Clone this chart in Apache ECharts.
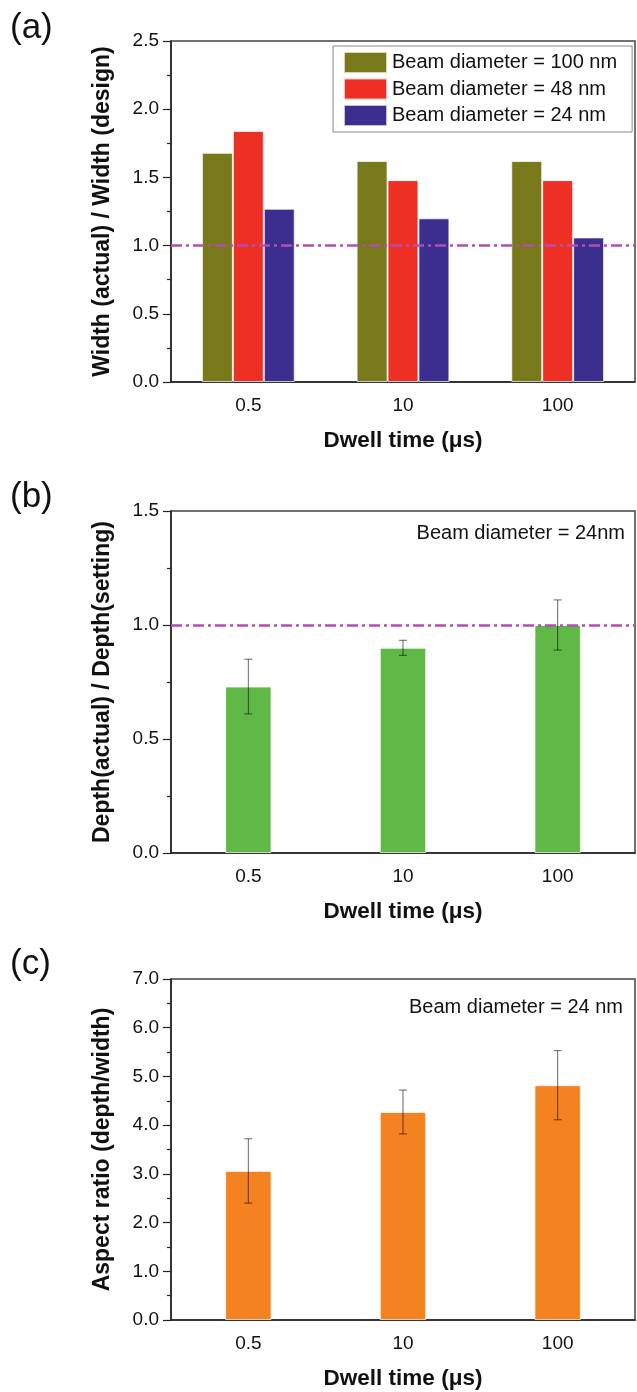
<!DOCTYPE html>
<html>
<head>
<meta charset="utf-8">
<script src="https://cdn.jsdelivr.net/npm/echarts@6/dist/echarts.min.js"></script>
<style>
  html, body { margin: 0; padding: 0; background: #fff; }
  #chart { width: 637px; height: 1392px; }
</style>
</head>
<body>
<div id="chart"></div>
<script>
// data
const categories = ['0.5', '10', '100']
const width100 = [1.68, 1.62, 1.62]
const width48 = [1.84, 1.48, 1.48]
const width24 = [1.27, 1.20, 1.06]
const depthRatio = [0.73, 0.90, 1.00]
const depthErr = [0.12, 0.033, 0.11]
const aspectRatio = [3.06, 4.27, 4.82]
const aspectErr = [0.66, 0.45, 0.71]
const seriesNames = ['Beam diameter = 100 nm', 'Beam diameter = 48 nm', 'Beam diameter = 24 nm']
const yRangeA = [0, 2.5, 0.5]
const yRangeB = [0, 1.5, 0.5]
const yRangeC = [0, 7, 1]
const refLine = 1.0

const FONT = 'Liberation Sans, Arial, sans-serif'
const grids = [
  { left: 171, top: 41, width: 464, height: 341 },
  { left: 171, top: 511, width: 464, height: 342 },
  { left: 171, top: 979, width: 464, height: 341 }
]

const xAxisMain = (gi) => ({
  type: 'category', gridIndex: gi, data: categories, position: 'bottom',
  name: 'Dwell time (μs)', nameLocation: 'middle', nameGap: 47,
  nameTextStyle: { fontFamily: FONT, fontSize: 22.5, fontWeight: 'bold', color: '#111' },
  axisLine: { lineStyle: { color: '#222', width: 1.5 } },
  axisTick: { alignWithLabel: true, length: 4, lineStyle: { color: '#222', width: 1.2 } },
  axisLabel: { fontFamily: FONT, fontSize: 19, color: '#111', margin: 14 },
  splitLine: { show: false }
})
// second axis only to draw the boundary ticks
const xAxisEdge = (gi) => ({
  type: 'category', gridIndex: gi, data: categories, position: 'bottom',
  axisLine: { show: false },
  axisTick: { length: 4, lineStyle: { color: '#222', width: 1.2 } },
  axisLabel: { show: false },
  splitLine: { show: false }
})
const yAxisOf = (gi, range, name) => ({
  type: 'value', gridIndex: gi, min: range[0], max: range[1], interval: range[2],
  name: name, nameLocation: 'middle', nameGap: 57, nameRotate: 90,
  nameTextStyle: { fontFamily: FONT, fontSize: 23, fontWeight: 'bold', color: '#111' },
  axisLine: { show: true, lineStyle: { color: '#222', width: 1.5 } },
  axisTick: { show: true, length: 8, lineStyle: { color: '#222', width: 1.2 } },
  minorTick: { show: true, splitNumber: 2, length: 4, lineStyle: { color: '#222', width: 1.2 } },
  axisLabel: { fontFamily: FONT, fontSize: 19, color: '#111', margin: 12, formatter: v => v.toFixed(1) },
  splitLine: { show: false }
})

const refMark = {
  silent: true, symbol: 'none', label: { show: false },
  lineStyle: { color: '#B24EB2', width: 2.5, type: [11, 4, 3, 4] },
  data: [{ yAxis: refLine }]
}

const errorSeries = (gi, vals, errs) => ({
  type: 'custom', xAxisIndex: gi, yAxisIndex: gi, z: 5,
  data: vals.map((v, i) => [i, v - errs[i], v + errs[i]]),
  encode: { x: 0, y: [1, 2] },
  renderItem: (params, api) => {
    const lo = api.coord([api.value(0), api.value(1)])
    const hi = api.coord([api.value(0), api.value(2)])
    const w = 4
    const st = { stroke: 'rgba(0,0,0,0.6)', lineWidth: 1 }
    return {
      type: 'group', children: [
        { type: 'line', shape: { x1: lo[0], y1: lo[1], x2: hi[0], y2: hi[1] }, style: st },
        { type: 'line', shape: { x1: lo[0] - w, y1: lo[1], x2: lo[0] + w, y2: lo[1] }, style: st },
        { type: 'line', shape: { x1: hi[0] - w, y1: hi[1], x2: hi[0] + w, y2: hi[1] }, style: st }
      ]
    }
  }
})

const barBorder = { borderColor: 'rgba(255,255,255,0.7)', borderWidth: 1 }

const chart = echarts.init(document.getElementById('chart'), null, { renderer: 'canvas' })
chart.setOption({
  animation: false,
  backgroundColor: '#fff',
  grid: grids.map(g => Object.assign({ show: true, borderColor: '#444', borderWidth: 1.5, backgroundColor: 'transparent' }, g)),
  xAxis: [xAxisMain(0), xAxisMain(1), xAxisMain(2), xAxisEdge(0), xAxisEdge(1), xAxisEdge(2)],
  yAxis: [
    yAxisOf(0, yRangeA, 'Width (actual) / Width (design)'),
    yAxisOf(1, yRangeB, 'Depth(actual) / Depth(setting)'),
    yAxisOf(2, yRangeC, 'Aspect ratio (depth/width)')
  ],
  legend: {
    orient: 'vertical', left: 333, top: 46,
    data: seriesNames,
    icon: 'rect', itemWidth: 43, itemHeight: 21, itemGap: 3.5,
    padding: [5, 15, 5, 10],
    borderColor: '#888', borderWidth: 1,
    textStyle: { fontFamily: FONT, fontSize: 20, color: '#111' },
    selectedMode: false
  },
  graphic: [
    { type: 'text', left: 10, top: 11, style: { text: '(a)', font: '35px ' + FONT, fill: '#111' } },
    { type: 'text', left: 10, top: 480, style: { text: '(b)', font: '35px ' + FONT, fill: '#111' } },
    { type: 'text', left: 10, top: 947, style: { text: '(c)', font: '35px ' + FONT, fill: '#111' } },
    { type: 'text', right: 12, top: 523, style: { text: 'Beam diameter = 24nm', font: '20px ' + FONT, fill: '#111' } },
    { type: 'text', right: 14, top: 997, style: { text: 'Beam diameter = 24 nm', font: '20px ' + FONT, fill: '#111' } }
  ],
  series: [
    { type: 'bar', name: seriesNames[0], xAxisIndex: 0, yAxisIndex: 0, data: width100,
      barGap: '0%', barCategoryGap: '40%', itemStyle: Object.assign({ color: '#77791B' }, barBorder),
      markLine: refMark },
    { type: 'bar', name: seriesNames[1], xAxisIndex: 0, yAxisIndex: 0, data: width48,
      barGap: '0%', barCategoryGap: '40%', itemStyle: Object.assign({ color: '#EE3024' }, barBorder) },
    { type: 'bar', name: seriesNames[2], xAxisIndex: 0, yAxisIndex: 0, data: width24,
      barGap: '0%', barCategoryGap: '40%', itemStyle: Object.assign({ color: '#3B2E8E' }, barBorder) },
    { type: 'bar', name: 'depth', xAxisIndex: 1, yAxisIndex: 1, data: depthRatio,
      barWidth: '30%', itemStyle: Object.assign({ color: '#60B946' }, barBorder),
      markLine: refMark },
    errorSeries(1, depthRatio, depthErr),
    { type: 'bar', name: 'aspect', xAxisIndex: 2, yAxisIndex: 2, data: aspectRatio,
      barWidth: '30%', itemStyle: Object.assign({ color: '#F58220' }, barBorder) },
    errorSeries(2, aspectRatio, aspectErr)
  ]
})
window.addEventListener('resize', () => chart.resize())
</script>
</body>
</html>
